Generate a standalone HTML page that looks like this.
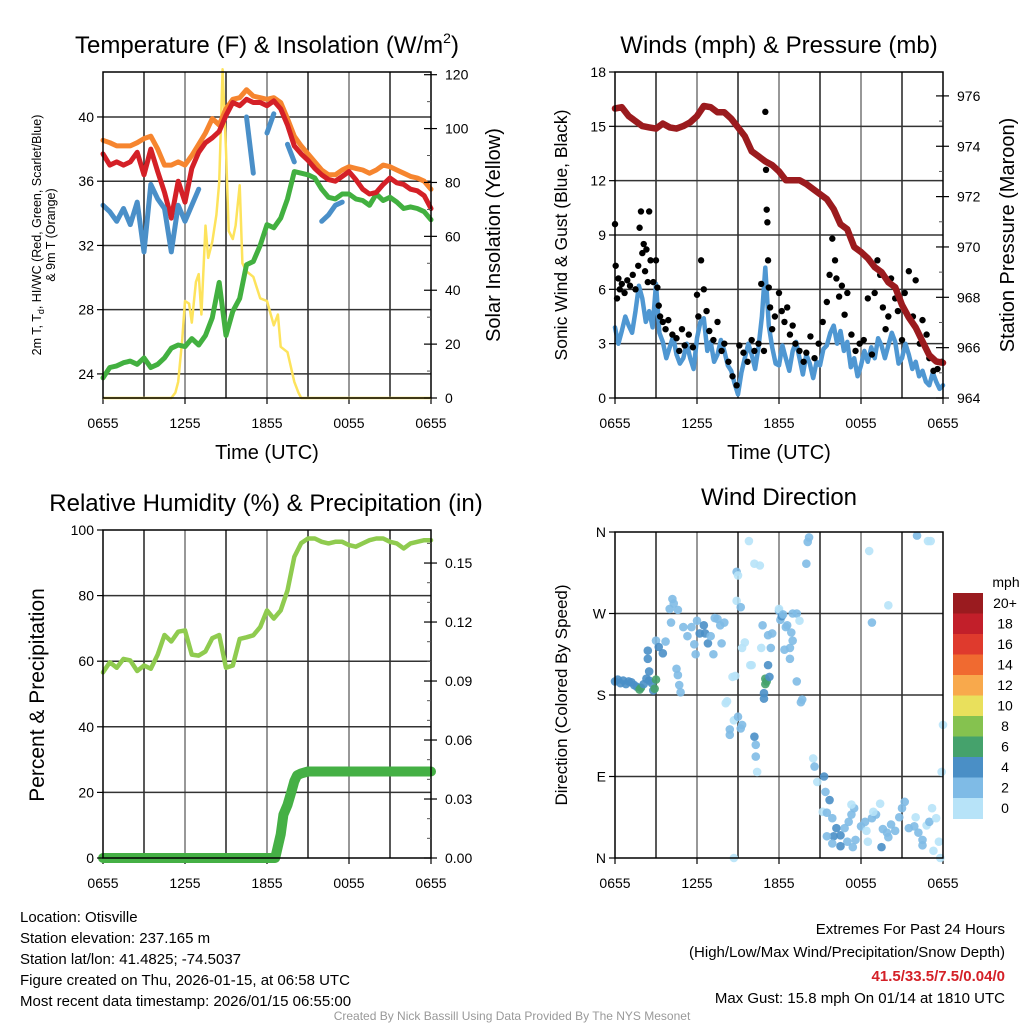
<!DOCTYPE html>
<html><head><meta charset="utf-8"><style>
html,body{margin:0;padding:0;background:#fff}
svg{display:block;font-family:"Liberation Sans",sans-serif}
</style></head><body>
<svg id="fig" width="1024" height="1024" viewBox="0 0 1024 1024" xmlns="http://www.w3.org/2000/svg">
<rect width="1024" height="1024" fill="#fff"/>
<g id="layer"></g>
<text x="267" y="53" font-size="24" text-anchor="middle">Temperature (F) &amp; Insolation (W/m<tspan font-size="14" dy="-10">2</tspan><tspan dy="10">)</tspan></text>
<text x="779" y="53" font-size="24" text-anchor="middle">Winds (mph) &amp; Pressure (mb)</text>
<text x="266" y="511" font-size="24" text-anchor="middle">Relative Humidity (%) &amp; Precipitation (in)</text>
<text x="779" y="505" font-size="24" text-anchor="middle">Wind Direction</text>
<text transform="translate(41,235) rotate(-90)" font-size="12.5" text-anchor="middle">2m T, T<tspan font-size="9" dy="3">d</tspan><tspan dy="-3">, HI/WC (Red, Green, Scarlet/Blue)</tspan></text>
<text transform="translate(55,235) rotate(-90)" font-size="12.5" text-anchor="middle">&amp; 9m T (Orange)</text>
<text transform="translate(500,235) rotate(-90)" font-size="20" text-anchor="middle">Solar Insolation (Yellow)</text>
<text x="267" y="459" font-size="20" text-anchor="middle">Time (UTC)</text>
<text x="779" y="459" font-size="20" text-anchor="middle">Time (UTC)</text>
<text transform="translate(567,235) rotate(-90)" font-size="17.5" text-anchor="middle">Sonic Wind &amp; Gust (Blue, Black)</text>
<text transform="translate(1014,235) rotate(-90)" font-size="20" text-anchor="middle">Station Pressure (Maroon)</text>
<text transform="translate(44,695) rotate(-90)" font-size="21" text-anchor="middle">Percent &amp; Precipitation</text>
<text transform="translate(567,695) rotate(-90)" font-size="17" text-anchor="middle">Direction (Colored By Speed)</text>
<g font-size="15">
<text x="20" y="922">Location: Otisville</text>
<text x="20" y="943">Station elevation: 237.165 m</text>
<text x="20" y="964">Station lat/lon: 41.4825; -74.5037</text>
<text x="20" y="985">Figure created on Thu, 2026-01-15, at 06:58 UTC</text>
<text x="20" y="1006">Most recent data timestamp: 2026/01/15 06:55:00</text>
</g>
<g font-size="15" text-anchor="end">
<text x="1005" y="934">Extremes For Past 24 Hours</text>
<text x="1005" y="957">(High/Low/Max Wind/Precipitation/Snow Depth)</text>
<text x="1005" y="981" fill="#d42027" font-weight="bold">41.5/33.5/7.5/0.04/0</text>
<text x="1005" y="1003">Max Gust: 15.8 mph On 01/14 at 1810 UTC</text>
</g>
<text x="512" y="1020" font-size="12" fill="#999" text-anchor="middle">Created By Nick Bassill Using Data Provided By The NYS Mesonet</text>
</svg>
<script>
// ---- data ----
const timeTicks = ["0655","1255","1855","0055","0655"];
const halfHours = [0,0.5,1,1.5,2,2.5,3,3.5,4,4.5,5,5.5,6,6.5,7,7.5,8,8.5,9,9.5,10,10.5,11,11.5,12,12.5,13,13.5,14,14.5,15,15.5,16,16.5,17,17.5,18,18.5,19,19.5,20,20.5,21,21.5,22,22.5,23,23.5,24];
const temp9m = [38.55,38.4,38.2,38.2,38.2,38.4,38.65,38.8,38.0,37.0,37.0,37.2,37.0,37.6,38.3,39.0,39.9,39.5,40.5,41.1,41.2,41.7,41.3,41.2,41.1,41.2,40.9,39.9,38.8,38.2,37.7,37.2,36.7,36.4,36.4,36.7,36.9,36.8,36.7,36.5,36.7,37.0,36.9,36.7,36.5,36.3,36.2,36.0,35.5];
const temp2m = [37.7,37.0,37.2,37.0,37.2,37.8,36.4,38.0,36.6,35.3,33.7,36.0,34.7,36.8,37.8,38.4,38.7,39.1,40.1,40.9,40.7,41.1,40.9,40.9,40.7,41.0,40.5,39.5,38.2,37.7,37.3,36.8,36.4,36.1,36.0,36.3,36.6,36.1,35.5,35.2,35.3,35.8,36.2,35.9,35.8,35.5,35.4,35.1,34.3];
const heatWind = [34.5,34.1,33.5,34.3,33.3,34.7,31.6,35.8,34.9,34.3,31.6,34.5,33.5,34.5,35.5,null,null,null,39.2,null,null,40.0,36.5,null,39.0,40.2,null,38.3,37.2,null,null,null,33.5,33.9,34.5,34.7,null,33.6,null,33.3,null,33.6,null,null,null,null,null,null,null];
const dewPoint = [23.75,24.4,24.5,24.7,24.8,24.6,25.0,24.4,24.6,25.0,25.6,25.8,25.7,26.2,25.8,26.4,27.5,29.7,26.4,27.9,28.7,30.8,31.0,32.0,33.3,33.1,33.7,34.9,36.6,36.5,36.4,36.2,35.5,35.0,34.9,35.2,35.2,34.9,34.8,34.5,35.2,34.8,35.0,34.7,34.3,34.4,34.3,34.1,33.6];
const solarT = [0,5.0,5.3,5.5,5.8,6.0,6.3,6.5,6.8,7.0,7.2,7.5,7.7,8.0,8.3,8.5,8.75,8.85,9.0,9.2,9.5,9.7,10.0,10.2,10.5,11.0,11.5,12.0,12.5,12.8,13.0,13.5,14.0,14.3,14.5,24];
const solarV = [0,0,2,6,22,36,35,28,43,46,31,64,52,58,68,80,122,110,92,62,59,64,79,50,47,45,37,36,27,31,19,17,6,2,0,0];
const windStep = 0.25;
const windSpd = [3.9,3.0,3.7,4.5,4.0,3.6,4.8,6.2,5.5,4.2,
4.8,3.9,6.3,3.6,3.1,2.2,2.8,3.4,2.4,1.9,
2.2,3.0,2.2,1.6,3.3,4.2,4.4,2.6,3.1,2.0,
2.4,3.2,2.6,1.8,1.5,0.8,0.2,1.4,2.2,3.0,
2.4,1.6,2.8,4.5,7.2,4.0,2.8,1.9,1.8,2.9,
2.2,1.5,2.6,3.1,2.2,1.3,2.4,1.9,1.1,2.0,
1.8,2.7,2.9,3.6,4.0,3.0,3.7,2.6,3.1,1.7,
2.2,1.2,1.8,2.6,2.0,2.8,2.2,3.3,2.9,2.2,
2.9,3.6,3.1,1.9,2.2,3.0,2.4,1.6,2.0,1.2,
1.5,0.9,0.7,1.4,0.9,0.5,0.7];
const pressure = [975.5,975.55,975.2,975.0,974.8,974.75,974.7,974.9,974.75,974.7,974.8,974.95,975.2,975.6,975.55,975.35,975.35,975.1,974.75,974.4,973.8,973.6,973.4,973.25,973.0,972.65,972.65,972.65,972.5,972.3,972.1,971.9,971.5,970.9,970.7,970.0,969.8,969.55,969.2,969.0,968.6,968.4,967.7,967.2,966.8,966.25,965.7,965.45,965.4];
const gustT = [0.0,0.05,0.15,0.25,0.35,0.5,0.7,0.9,1.1,1.3,1.5,1.7,1.8,1.9,2.0,2.1,2.2,2.3,2.4,2.5,2.6,2.8,3.0,3.1,3.2,3.3,3.5,3.7,3.9,4.2,4.5,4.7,4.9,5.1,5.4,5.7,6.0,6.1,6.3,6.5,6.7,6.9,7.2,7.5,7.8,8.0,8.3,8.6,8.9,9.1,9.4,9.7,10.0,10.2,10.5,10.7,10.9,11.0,11.05,11.1,11.15,11.2,11.25,11.35,11.5,11.7,12.0,12.2,12.4,12.6,12.8,13.0,13.2,13.5,13.8,14.0,14.3,14.6,14.9,15.2,15.5,15.7,15.9,16.1,16.2,16.4,16.6,16.8,17.0,17.3,17.6,17.9,18.2,18.5,18.8,19.0,19.2,19.4,19.6,19.8,20.0,20.2,20.5,20.7,21.0,21.2,21.5,21.8,22.0,22.3,22.5,22.8,23.0,23.3,23.6,23.9];
const gustV = [9.6,7.3,5.5,6.6,6.0,6.3,5.8,6.5,6.2,6.8,6.0,7.3,9.4,10.3,8.0,8.5,7.0,8.2,6.4,10.3,7.6,6.4,7.6,6.1,5.1,4.5,4.2,3.8,4.3,3.5,3.3,2.6,3.8,2.9,3.5,2.8,5.7,4.5,7.6,6.0,4.8,3.7,3.2,4.2,2.6,3.0,2.0,1.2,0.7,2.9,2.5,2.0,3.2,2.6,3.0,6.3,2.6,15.8,12.6,10.4,9.7,7.6,6.1,5.0,3.8,4.5,5.8,4.8,4.2,5.0,3.5,4.0,3.0,2.6,2.0,2.5,3.4,2.2,3.0,4.2,5.3,6.8,8.8,7.6,6.6,5.6,6.2,4.6,5.8,3.5,2.6,3.0,3.2,5.5,2.4,5.8,7.6,6.8,5.0,3.8,4.5,6.6,5.5,4.8,3.2,5.8,7.0,4.5,6.5,3.0,4.3,3.5,2.2,1.5,1.6,2.0];
const relHum = [56.6,59.7,58,60.7,60.2,57,58.7,57.7,62,68,66,69,69.4,62,61.7,63,67,68,58,58.7,66.8,67.3,67.9,70.4,75.5,73,75.5,81.6,91.8,96,97.4,97.4,96.4,95.9,96.4,96.4,95.4,94.9,95.9,96.9,97.4,97.4,96.4,95.9,94.4,95.9,96.4,96.9,96.9];
const precipT = [0,12.6,13.0,13.2,13.5,13.8,14.0,14.2,14.5,15.0,24];
const precipV = [0,0,0.012,0.022,0.027,0.034,0.039,0.042,0.043,0.044,0.044];
const dirT = [0.0,0.2,0.4,0.6,0.8,1.0,1.2,1.4,1.6,1.8,1.9,2.1,2.3,2.5,2.7,2.8,2.9,3.0,2.5,2.4,2.4,3.0,3.2,3.5,3.7,4.0,4.1,4.2,4.3,4.6,4.5,4.6,4.7,4.8,5.0,5.3,5.6,5.8,5.9,6.0,6.2,6.5,6.6,6.8,7.0,7.2,7.3,7.5,7.7,7.8,8.0,8.1,8.2,8.4,8.4,8.7,9.0,9.2,9.3,8.6,8.8,9.3,9.5,8.9,9.2,8.9,9.0,9.8,10.2,10.6,9.9,10.0,10.2,10.3,10.3,10.4,10.7,10.8,11.0,11.1,11.0,10.9,10.9,11.2,11.3,11.2,11.4,11.5,12.0,12.1,12.2,12.5,12.6,12.8,13.0,12.8,13.3,13.5,12.0,12.3,12.9,13.0,12.4,13.3,13.6,13.7,14.1,14.2,14.0,14.5,14.6,14.8,15.3,15.4,15.7,15.2,15.5,16.2,15.9,16.0,15.9,15.5,16.5,16.8,17.1,17.3,17.5,17.0,17.6,18.0,18.3,18.4,18.8,19.1,19.4,19.6,19.9,20.0,20.2,20.5,20.8,21.0,21.2,21.5,21.9,22.2,22.5,22.0,22.8,23.0,23.2,23.5,23.7,23.8,23.3,22.5,16.5,17.4,18.5,19.5,17.3,18.9,23.9,24.0,18.6,20.0,18.8,22.1,22.9,23.1,8.7];
const dirDeg = [195,197,193,196,192,195,194,191,189,186,188,192,198,196,193,185,187,197,206,220,229,240,233,226,239,275,260,286,281,274,209,202,191,183,255,245,255,236,225,262,248,257,248,237,245,225,265,264,257,237,260,171,173,136,142,152,156,143,147,200,201,232,238,284,277,316,312,350,325,323,213,213,134,125,112,95,232,257,198,195,192,182,176,213,200,246,232,248,273,263,267,255,257,232,240,220,270,262,275,269,249,270,230,195,172,175,349,354,325,110,101,84,90,73,64,51,50,33,44,24,16,24,25,33,40,48,55,18,20,35,40,30,44,48,60,32,28,23,37,30,45,55,62,33,35,28,20,45,36,40,55,44,18,0,8,14,13,12,18,12,59,51,95,147,339,279,260,356,350,350,0];
const dirSpd = [4,5,4,5,4,4,5,4,4,7,7,5,4,5,5,4,7,7,4,4,4,3,4,4,3,3,3,3,3,3,3,3,3,3,3,3,3,3,3,3,5,5,5,5,3,3,3,3,3,3,3,1,1,3,2,1,3,3,2,1,1,1,1,1,2,2,1,1,1,1,1,1,4,3,3,1,1,2,7,7,7,5,5,4,4,3,3,3,3,3,5,3,3,3,3,3,3,1,1,3,3,3,3,3,3,3,3,3,3,1,3,1,5,3,5,1,3,5,3,5,3,2,5,3,3,3,3,3,2,3,3,1,3,3,1,3,3,3,3,3,3,3,3,3,3,3,3,1,1,3,1,1,1,1,1,3,5,3,1,5,1,1,1,1,1,1,3,3,1,1,1];
const cbLabels = ["20+","18","16","14","12","10","8","6","4","2","0"];
const cbColors = ["#9a1b1f","#c21f2a","#df3a2d","#f06a30","#f8a94c","#e9e05c","#85c24f","#45a26c","#4a8fc6","#7fbbe6","#b7e3f8"];

// ---- helpers ----
const NS="http://www.w3.org/2000/svg";
const layer=document.getElementById('layer');
function mk(tag,attrs,parent){const e=document.createElementNS(NS,tag);for(const k in attrs)e.setAttribute(k,attrs[k]);(parent||layer).appendChild(e);return e;}
function panel(x0,x1,y0,y1){return {x0,x1,y0,y1,x:t=>x0+t/24*(x1-x0)};}
function lin(v0,v1,p){return v=>p.y1-(v-v0)/(v1-v0)*(p.y1-p.y0);}
function pathD(xs,ys,fx,fy){let d="",pen=false;for(let i=0;i<xs.length;i++){if(ys[i]===null){pen=false;continue;}d+=(pen?"L":"M")+fx(xs[i]).toFixed(1)+","+fy(ys[i]).toFixed(1);pen=true;}return d;}
function frame(p,name,hVals,fy){
  const g=mk('g',{});
  
  
  for(let h=3;h<24;h+=3){const l=mk('line',{x1:p.x(h),x2:p.x(h),y1:p.y0,y2:p.y1,stroke:(h%6===0?"#777":"#222"),'stroke-width':1.5},g);}
  hVals.forEach(v=>{const y=fy(v);if(y<=p.y0+1||y>=p.y1-1)return;const l=mk('line',{x1:p.x0,x2:p.x1,y1:y,y2:y,stroke:"#333",'stroke-width':1.5},g);});
  timeTicks.forEach((s,i)=>{const t=mk('text',{x:p.x(i*6),y:p.y1+30,'font-size':14,'text-anchor':'middle'});t.textContent=s;
    const tk=mk('line',{x1:p.x(i*6),x2:p.x(i*6),y1:p.y1,y2:p.y1+6,stroke:"#000",'stroke-width':1.2});});
}
function box(p,name){const r=mk('rect',{x:p.x0,y:p.y0,width:p.x1-p.x0,height:p.y1-p.y0,fill:'none',stroke:'#000','stroke-width':1.5});}
function leftTicks(p,vals,labels,fy){vals.forEach((v,i)=>{const y=fy(v);const t=mk('text',{x:p.x0-9,y:y+5,'font-size':14,'text-anchor':'end'});t.textContent=labels[i];
  const tk=mk('line',{x1:p.x0-6,x2:p.x0,y1:y,y2:y,stroke:'#000','stroke-width':1.2});});}
function rightTicks(p,vals,labels,fy,minor){vals.forEach((v,i)=>{const y=fy(v);const t=mk('text',{x:p.x1+14,y:y+5,'font-size':14});t.textContent=labels[i];
  const tk=mk('line',{x1:p.x1-7,x2:p.x1+6,y1:y,y2:y,stroke:'#000','stroke-width':1.2});});
  (minor||[]).forEach(v=>{const y=fy(v);const tk=mk('line',{x1:p.x1-4,x2:p.x1,y1:y,y2:y,stroke:'#555','stroke-width':1});});}

// ---- Panel 1: temperature ----
const p1=panel(103,431,72,398);
const fT=lin(22.5,42.8,p1), fS=lin(0,121,p1);
frame(p1,'temperature',[24,28,32,36,40],fT);
let s;
s=mk('path',{d:pathD(solarT,solarV,p1.x,fS),fill:'none',stroke:'#fde35c','stroke-width':2.5,'stroke-linejoin':'round'});

s=mk('path',{d:pathD(halfHours,dewPoint,p1.x,fT),fill:'none',stroke:'#42b040','stroke-width':5,'stroke-linejoin':'round','stroke-linecap':'round'});

s=mk('path',{d:pathD(halfHours,temp9m,p1.x,fT),fill:'none',stroke:'#f6852f','stroke-width':5,'stroke-linejoin':'round','stroke-linecap':'round'});

s=mk('path',{d:pathD(halfHours,temp2m,p1.x,fT),fill:'none',stroke:'#d42027','stroke-width':5,'stroke-linejoin':'round','stroke-linecap':'round'});

s=mk('path',{d:pathD(halfHours,heatWind,p1.x,fT),fill:'none',stroke:'#4a8fc8','stroke-width':5,'stroke-linejoin':'round','stroke-linecap':'round'});

box(p1,'temperature');
leftTicks(p1,[24,28,32,36,40],["24","28","32","36","40"],fT);
rightTicks(p1,[0,20,40,60,80,100,120],["0","20","40","60","80","100","120"],fS,[10,30,50,70,90,110]);

// ---- Panel 2: winds ----
const p2=panel(615,943,72,398);
const fW=lin(0,18,p2), fP=lin(964,976.95,p2);
frame(p2,'winds',[0,3,6,9,12,15,18],fW);
const windT = windSpd.map((v,i)=>i*windStep);
s=mk('path',{d:pathD(windT,windSpd,p2.x,fW),fill:'none',stroke:'#4f97d2','stroke-width':4.5,'stroke-linejoin':'round','stroke-linecap':'round'});

gustT.forEach((t,i)=>{const c=mk('circle',{cx:p2.x(t),cy:fW(gustV[i]),r:3.2,fill:'#000'});
  });
s=mk('path',{d:pathD(halfHours,pressure,p2.x,fP),fill:'none',stroke:'#9b1b1e','stroke-width':6.5,'stroke-linejoin':'round','stroke-linecap':'round'});

box(p2,'winds');
leftTicks(p2,[0,3,6,9,12,15,18],["0","3","6","9","12","15","18"],fW);
rightTicks(p2,[964,966,968,970,972,974,976],["964","966","968","970","972","974","976"],fP,[965,967,969,971,973,975]);

// ---- Panel 3: humidity ----
const p3=panel(103,431,530,858);
const fH=lin(0,100,p3), fR=lin(0,0.1668,p3);
frame(p3,'humidity',[0,20,40,60,80,100],fH);
s=mk('path',{d:pathD(halfHours,relHum,p3.x,fH),fill:'none',stroke:'#8fcb4f','stroke-width':4.5,'stroke-linejoin':'round','stroke-linecap':'round'});

s=mk('path',{d:pathD(precipT,precipV,p3.x,fR),fill:'none',stroke:'#45b045','stroke-width':10,'stroke-linejoin':'round','stroke-linecap':'round'});

box(p3,'humidity');
leftTicks(p3,[0,20,40,60,80,100],["0","20","40","60","80","100"],fH);
rightTicks(p3,[0,0.03,0.06,0.09,0.12,0.15],["0.00","0.03","0.06","0.09","0.12","0.15"],fR,[0.01,0.02,0.04,0.05,0.07,0.08,0.1,0.11,0.13,0.14,0.16]);

// ---- Panel 4: wind direction ----
const p4=panel(615,943,532,858);
const fD=lin(0,360,p4);
frame(p4,'direction',[0,90,180,270,360],fD);
function spdColor(v){const idx=Math.min(10,Math.floor(v/2));return cbColors[10-idx];}
dirT.forEach((t,i)=>{const c=mk('circle',{cx:p4.x(t),cy:fD(dirDeg[i]),r:4.3,fill:spdColor(dirSpd[i]),'fill-opacity':0.9});
  });
box(p4,'direction');
leftTicks(p4,[0,90,180,270,360],["N","E","S","W","N"],fD);
const cb=mk('g',{});


const cbTop=593, cbH=20.5;
cbColors.forEach((col,i)=>{const r=mk('rect',{x:953,y:cbTop+i*cbH,width:30,height:cbH+0.5,fill:col},cb);
  
  const t=mk('text',{x:1005,y:cbTop+i*cbH+15,'font-size':14,'text-anchor':'middle'},cb);t.textContent=cbLabels[i];
  });
const cbt=mk('text',{x:1006,y:587,'font-size':14,'text-anchor':'middle'},cb);cbt.textContent="mph";

</script>
</body></html>
